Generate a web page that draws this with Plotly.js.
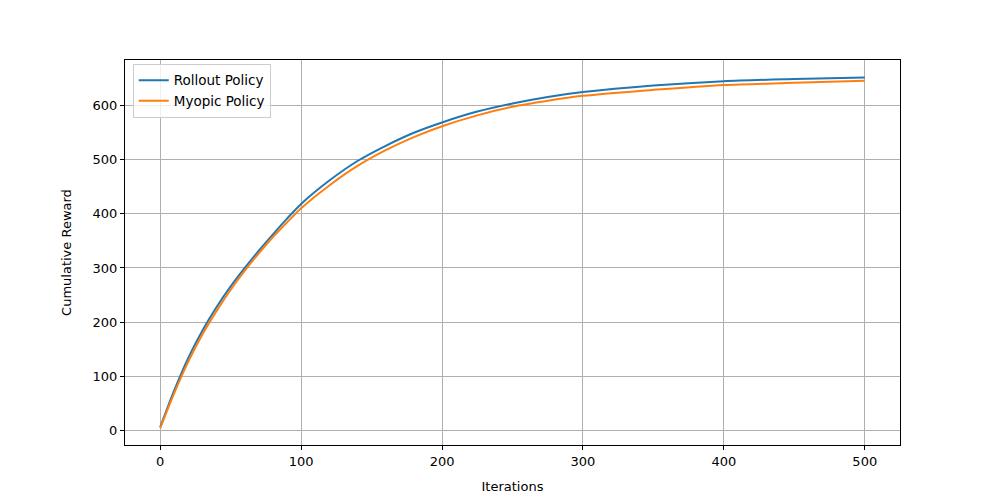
<!DOCTYPE html>
<html>
<head>
<meta charset="utf-8">
<script src="https://cdn.plot.ly/plotly-3.0.1.min.js"></script>
<style>html,body{margin:0;padding:0;background:#fff;}#chart{width:1000px;height:500px;}</style>
</head>
<body>
<div id="chart"></div>
<script>
const iterations = [0,10,20,30,40,50,60,70,80,90,100,120,140,160,180,200,225,250,275,300,350,400,450,500];
const rolloutPolicy = [7,75,135,185,228,266,300,332,362,391,418,461,497,525,549,568,588,603,615,624,636,644,648,651];
const myopicPolicy = [5,70,128,178,221,260,295,327,357,384,410,452,488,517,541,561,581,597,608,617,628,637,641,645];
const xTicks = [0,100,200,300,400,500];
const yTicks = [0,100,200,300,400,500,600];

const traces = [
  {x: iterations, y: rolloutPolicy, name: 'Rollout Policy', mode: 'lines', line: {color: '#1f77b4', width: 2, shape: 'spline', smoothing: 0.8}},
  {x: iterations, y: myopicPolicy, name: 'Myopic Policy', mode: 'lines', line: {color: '#ff7f0e', width: 2, shape: 'spline', smoothing: 0.8}}
];
const axisCommon = {
  showline: true, linecolor: '#000', linewidth: 1, mirror: true,
  showgrid: true, gridcolor: '#b0b0b0', gridwidth: 1,
  ticks: 'outside', ticklen: 4, tickcolor: '#000', tickwidth: 1,
  zeroline: false, tickfont: {size: 13, color: '#000'}
};
const layout = {
  width: 1000, height: 500,
  margin: {l: 125, r: 100, t: 60, b: 55},
  paper_bgcolor: '#fff', plot_bgcolor: '#fff',
  font: {family: 'DejaVu Sans', size: 13, color: '#000'},
  xaxis: Object.assign({}, axisCommon, {range: [-25, 525], tickvals: xTicks, ticktext: xTicks.map(String),
    title: {text: 'Iterations', font: {size: 13}, standoff: 14}}),
  yaxis: Object.assign({}, axisCommon, {range: [-26, 683], tickvals: yTicks, ticktext: yTicks.map(String),
    title: {text: 'Cumulative Reward', font: {size: 13}, standoff: 18}}),
  showlegend: true,
  legend: {x: 0.01, y: 0.99, xanchor: 'left', yanchor: 'top', bgcolor: 'rgba(255,255,255,0.8)',
    bordercolor: '#cccccc', borderwidth: 1, font: {size: 13.5}, tracegroupgap: 0, itemwidth: 30}
};
Plotly.newPlot('chart', traces, layout, {displayModeBar: false, staticPlot: true});
</script>
</body>
</html>
